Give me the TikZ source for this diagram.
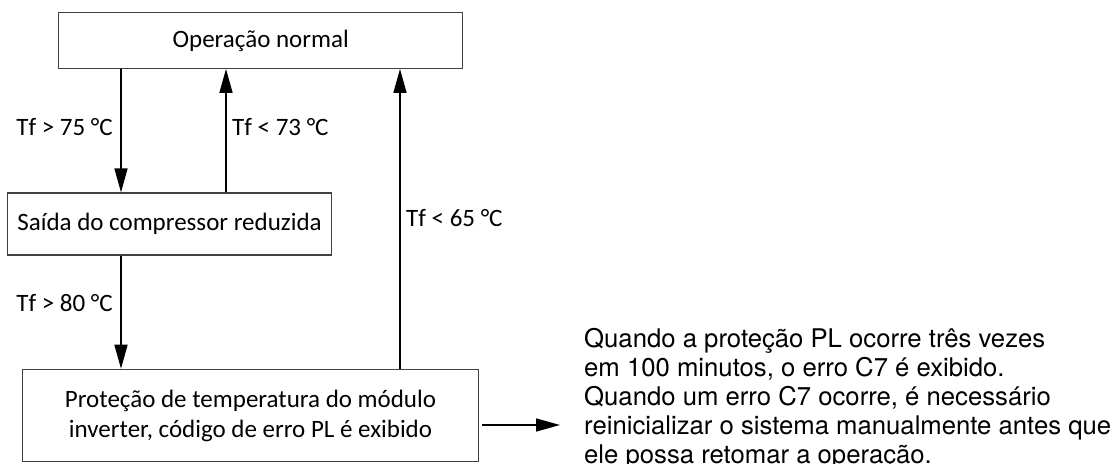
\documentclass[tikz,border=0pt]{standalone}
\usepackage{fontspec}
\setmainfont{Carlito}
\newfontfamily\notefont{TeX Gyre Heros}
\usetikzlibrary{arrows.meta}
\tikzset{
  state/.style={draw=black!75, line width=1.2pt, inner sep=0pt, align=center,
    font=\fontsize{25}{30}\selectfont},
  cond/.style={inner sep=0pt, font=\fontsize{25}{30}\selectfont},
  flow/.style={-{Triangle[length=24pt,width=13pt]}, line width=1.5pt}
}
\begin{document}
\begin{tikzpicture}[x=1pt,y=-1pt]
        \useasboundingbox (0,0) rectangle (1116,463);
        \node [state, minimum width=404, minimum height=55.6] (normal) at (260.7,40.5) {Operação normal};
        \node [state, minimum width=324.4, minimum height=62] (reduced) at (169.5,224) {Saída do compressor reduzida};
        \node [state, minimum width=455.6, minimum height=92.4] (inverter) at (250.5,415.5)
            {Proteção de temperatura do módulo\\inverter, código de erro PL é exibido};
        \coordinate (colA) at (121,0);
        \coordinate (colB) at (226,0);
        \coordinate (colC) at (400,0);
        \coordinate (tipC7) at (560,425);
        \draw [flow] (colA |- normal.south) -- (colA |- reduced.north);
        \draw [flow] (colB |- reduced.north) -- (colB |- normal.south);
        \draw [flow] (colA |- reduced.south) -- (colA |- inverter.north);
        \draw [flow] (colC |- inverter.north) -- (colC |- normal.south);
        \draw [flow] ([xshift=3pt]inverter.east |- tipC7) -- (tipC7);
        \node [cond, anchor=east] (gt75) at (113,127) {Tf > 75 °C};
        \node [cond, anchor=west] (lt73) at (232,127) {Tf < 73 °C};
        \node [cond, anchor=west] (lt65) at (406,218) {Tf < 65 °C};
        \node [cond, anchor=east] (gt80) at (113,303) {Tf > 80 °C};
        \node [anchor=north west, inner sep=0pt, align=left, font=\notefont\fontsize{25.7}{29}\selectfont] (note) at (584,328)
            {Quando a proteção PL ocorre três vezes\\em 100 minutos, o erro C7 é exibido.\\Quando um erro C7 ocorre, é necessário\\reinicializar o sistema manualmente antes que\\ele possa retomar a operação.};
    \end{tikzpicture}
\end{document}
